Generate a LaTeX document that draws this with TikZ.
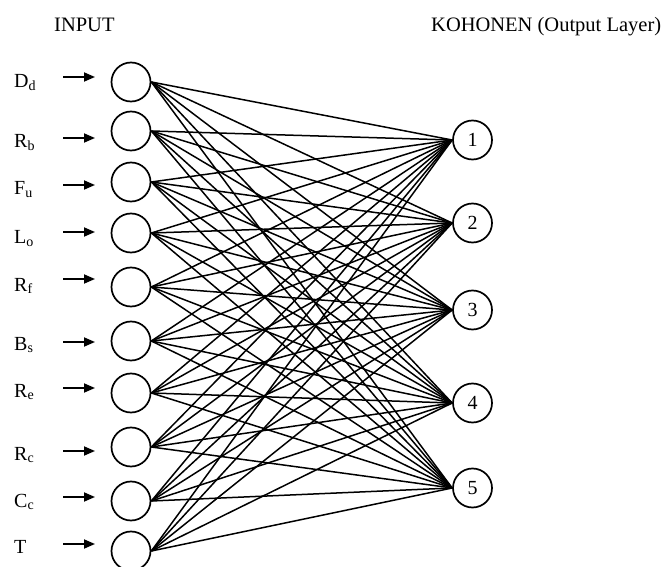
\documentclass[tikz,border=0pt]{standalone}
\usepackage{fontspec}
\setmainfont{Liberation Serif}
\usetikzlibrary{arrows.meta}
\newcommand\lowsub[1]{\raisebox{-0.3ex}{\fontsize{14}{14}\selectfont #1}}

\begin{document}
\begin{tikzpicture}[x=1pt,y=-1pt,
  unit/.style={circle,draw,line width=1.7pt,minimum size=39pt,inner sep=0pt,
               font=\fontsize{20}{22}\selectfont},
  link/.style={line width=1.5pt},
  feed/.style={line width=1.8pt,-{Triangle[length=11pt,width=9pt]}},
  lbl/.style={anchor=base west,inner sep=0pt,font=\fontsize{20}{22}\selectfont},
  head/.style={anchor=base west,inner sep=0pt,font=\fontsize{20.5}{24}\selectfont}]
\useasboundingbox (0,0) rectangle (665,567);

% layer titles
\node[head] (hin)  at (54,32) {INPUT};
\node[head] (hout) at (431,32) {KOHONEN (Output Layer)};

% input variables: index / circle y / arrow y / label baseline / letter / subscript
\foreach \i/\cy/\ay/\by/\main/\sub in {
    1/82/77/88/D/d, 2/131/138/148/R/b, 3/182/185/195/F/u, 4/233/232/244/L/o,
    5/287/279/291/R/f, 6/341/342/350/B/s, 7/393/388/397/R/e, 8/447/451/460/R/c,
    9/501/497/507/C/c, 10/551/544/553/T/} {
  \node[unit] (in\i) at (131,\cy) {};
  \coordinate (a\i) at (63,\ay);
  \coordinate (b\i) at (95,\ay);
  \draw[feed] (a\i) -- (b\i);
  \node[lbl] (lab\i) at (14,\by) {\main\lowsub{\sub}};
}

% Kohonen output units
\foreach \j/\oy in {1/140,2/223,3/310,4/403,5/488}
  \node[unit] (out\j) at (472.5,\oy) {\j};

% full connection between the layers
\foreach \i in {1,...,10}
  \foreach \j in {1,...,5}
    \draw[link] (in\i.east) -- (out\j.west);
\end{tikzpicture}
\end{document}
